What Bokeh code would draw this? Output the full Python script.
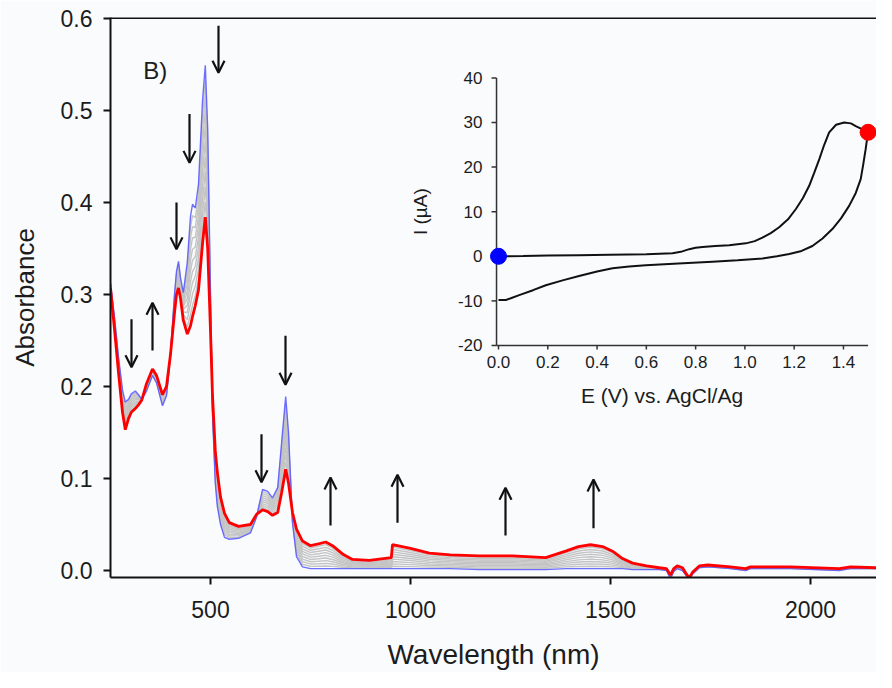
import math
from bokeh.plotting import figure
from bokeh.models import Range1d, Span, Arrow, OpenHead, Label, ColumnDataSource, PrintfTickFormatter
from bokeh.core.properties import value
from bokeh.embed import file_html
from bokeh.resources import INLINE

# ---------------- data: spectra (main panel) ----------------
wavelength = [250, 260, 270, 280, 287, 295, 302, 312, 320, 328, 340, 355, 365, 380, 390, 400,
              410, 415, 420, 425, 432, 442, 450, 455, 462, 470, 480, 487, 493, 500, 505, 512,
              517, 525, 535, 547, 570, 600, 615, 630, 643, 655, 668, 678, 688, 695, 705, 715,
              730, 750, 770, 788, 805, 830, 855, 897, 952, 955, 1000, 1047, 1100, 1172, 1255,
              1338, 1388, 1420, 1450, 1480, 1505, 1530, 1555, 1590, 1622, 1640, 1650, 1658,
              1667, 1680, 1690, 1697, 1705, 1722, 1743, 1800, 1838, 1850, 1950, 2072, 2100, 2165]

abs_initial = [0.312, 0.275, 0.232, 0.196, 0.183, 0.186, 0.192, 0.195, 0.191, 0.186, 0.195, 0.212,
               0.204, 0.179, 0.190, 0.235, 0.300, 0.325, 0.336, 0.318, 0.302, 0.335, 0.385, 0.398,
               0.394, 0.420, 0.510, 0.549, 0.480, 0.300, 0.170, 0.095, 0.070, 0.050, 0.036, 0.034,
               0.035, 0.041, 0.058, 0.088, 0.086, 0.079, 0.090, 0.140, 0.189, 0.150, 0.052, 0.015,
               0.004, 0.002, 0.002, 0.002, 0.002, 0.002, 0.002, 0.002, 0.002, 0.002, 0.002, 0.002,
               0.002, 0.001, 0.001, 0.001, 0.002, 0.002, 0.002, 0.002, 0.002, 0.002, 0.001, 0.001,
               0.001, 0.000, -0.009, -0.001, 0.002, 0.000, -0.006, -0.010, -0.004, 0.003, 0.004,
               0.002, 0.000, 0.002, 0.002, 0.000, 0.002, 0.002]

abs_final = [0.307, 0.262, 0.215, 0.172, 0.153, 0.165, 0.172, 0.176, 0.180, 0.185, 0.203, 0.219,
             0.212, 0.191, 0.200, 0.235, 0.280, 0.300, 0.307, 0.296, 0.272, 0.257, 0.266, 0.276,
             0.288, 0.305, 0.355, 0.384, 0.350, 0.260, 0.190, 0.130, 0.107, 0.080, 0.062, 0.052,
             0.048, 0.050, 0.061, 0.066, 0.064, 0.060, 0.063, 0.085, 0.110, 0.095, 0.063, 0.045,
             0.032, 0.027, 0.029, 0.031, 0.027, 0.018, 0.012, 0.011, 0.014, 0.028, 0.024, 0.019,
             0.017, 0.016, 0.016, 0.014, 0.021, 0.026, 0.028, 0.026, 0.021, 0.013, 0.008, 0.005,
             0.003, 0.002, -0.005, 0.002, 0.005, 0.003, -0.004, -0.008, -0.002, 0.005, 0.006,
             0.004, 0.002, 0.004, 0.004, 0.002, 0.004, 0.003]

# progress of the intermediate (gray) spectra between initial and final
gray_progress = [0.1, 0.2, 0.3, 0.4, 0.5, 0.6, 0.7, 0.8, 0.9]

# arrows (wavelength, tail absorbance, head absorbance)
arrow_wl = [302.5, 355, 415, 447.5, 520, 627.5, 687.5, 800, 967.5, 1237.5, 1457.5]
arrow_tail = [0.273, 0.239, 0.400, 0.496, 0.592, 0.148, 0.255, 0.049, 0.052, 0.038, 0.046]
arrow_head = [0.221, 0.291, 0.349, 0.443, 0.541, 0.096, 0.202, 0.101, 0.104, 0.090, 0.099]

x_ticks = [500, 1000, 1500, 2000]
y_ticks = [0.0, 0.1, 0.2, 0.3, 0.4, 0.5, 0.6]

# ---------------- data: cyclic voltammogram (inset) ----------------
cv_fwd_E = [0.0, 0.1, 0.2, 0.327, 0.45, 0.6, 0.706, 0.74, 0.774, 0.80, 0.828, 0.88, 0.936, 1.004,
            1.04, 1.071, 1.105, 1.139, 1.175, 1.207, 1.235, 1.261, 1.282, 1.302, 1.322, 1.342,
            1.37, 1.403, 1.43, 1.45, 1.475, 1.5]
cv_fwd_I = [0.0, 0.05, 0.15, 0.25, 0.35, 0.47, 0.7, 1.0, 1.6, 1.9, 2.1, 2.3, 2.5, 2.9,
            3.4, 4.2, 5.2, 6.5, 8.3, 10.6, 13.0, 15.8, 18.8, 21.8, 25.0, 27.8,
            29.5, 30.0, 29.8, 29.2, 28.5, 27.8]
cv_rev_E = [1.5, 1.495, 1.49, 1.48, 1.47, 1.45, 1.423, 1.39, 1.355, 1.315, 1.274, 1.23, 1.18,
            1.13, 1.071, 0.97, 0.868, 0.73, 0.598, 0.53, 0.463, 0.40, 0.327, 0.26, 0.192,
            0.14, 0.084, 0.05, 0.03, 0.0]
cv_rev_I = [27.8, 26.0, 24.0, 20.5, 17.3, 14.2, 11.3, 8.5, 6.1, 4.0, 2.3, 1.2, 0.5,
            0.0, -0.5, -0.9, -1.2, -1.6, -2.0, -2.3, -2.7, -3.4, -4.4, -5.4, -6.5,
            -7.6, -8.7, -9.4, -9.8, -9.8]
cv_start = ([0.0], [0.0])
cv_switch = ([1.5], [27.8])

inset_x_ticks = [0.0, 0.2, 0.4, 0.6, 0.8, 1.0, 1.2, 1.4]
inset_y_ticks = [-20, -10, 0, 10, 20, 30, 40]
inset_x_extent = (-0.008, 1.5)
inset_y_extent = (-20, 40)

# ---------------- figure ----------------
FONT = "Liberation Sans"
BG = "#f9fbfd"
INK = "#1c1c1c"

p = figure(width=876, height=672, x_range=Range1d(250, 2165), y_range=Range1d(-0.0076, 0.601),
           output_backend="svg", toolbar_location=None,
           min_border_left=110, min_border_right=0, min_border_top=17, min_border_bottom=95)
p.background_fill_color = BG
p.border_fill_color = BG
p.outline_line_color = None
p.xgrid.visible = False
p.ygrid.visible = False

p.extra_x_ranges = {"cvx": Range1d(-1.5747, 1.5341)}
p.extra_y_ranges = {"cvy": Range1d(-72.02, 53.54)}

for ax in (p.xaxis[0], p.yaxis[0]):
    ax.axis_line_width = 2
    ax.axis_line_color = "#111111"
    ax.major_tick_line_width = 2
    ax.major_tick_line_color = "#111111"
    ax.major_tick_out = 7
    ax.major_tick_in = 0
    ax.minor_tick_line_color = None
    ax.major_label_text_font = FONT
    ax.major_label_text_font_size = "23px"
    ax.major_label_text_color = INK
    ax.axis_label_text_font = FONT
    ax.axis_label_text_font_style = "normal"
    ax.axis_label_text_color = INK

p.xaxis.axis_label_text_font_size = "28px"
p.yaxis.axis_label_text_font_size = "26px"
p.xaxis.ticker = x_ticks
p.yaxis.ticker = y_ticks
p.yaxis.formatter = PrintfTickFormatter(format="%.1f")
p.xaxis.axis_label = "Wavelength (nm)"
p.yaxis.axis_label = "Absorbance"
p.xaxis.major_label_standoff = 16
p.yaxis.major_label_standoff = 11
p.xaxis.axis_label_standoff = 18
p.yaxis.axis_label_standoff = 18

p.add_layout(Span(location=0.6005, dimension="width", line_color="#111111", line_width=2))

# gray intermediate spectra
for f in gray_progress:
    ys = [a + f * (b - a) for a, b in zip(abs_initial, abs_final)]
    p.line(wavelength, ys, line_color="#c4c4c4", line_width=1.4)

p.line(wavelength, abs_initial, line_color="#5555ff", line_width=1.4, line_alpha=0.85)
p.line(wavelength, abs_final, line_color="#ff0000", line_width=2.8)

arrows = ColumnDataSource(dict(x0=arrow_wl, y0=arrow_tail, x1=arrow_wl, y1=arrow_head))
p.add_layout(Arrow(source=arrows, x_start="x0", y_start="y0", x_end="x1", y_end="y1",
                   line_width=2.2, line_color="#111111",
                   end=OpenHead(size=12, line_width=2.2, line_color="#111111")))

p.add_layout(Label(x=332, y=0.543, text="B)", text_font=FONT, text_font_size="24px",
                   text_color=INK, text_baseline="middle", text_align="left"))

# ---------------- inset (cyclic voltammogram) ----------------
rk = dict(x_range_name="cvx", y_range_name="cvy")
axc = "#333333"
p.line([inset_x_extent[0], inset_x_extent[0]], [inset_y_extent[0], inset_y_extent[1]],
       line_color=axc, line_width=1.5, **rk)
p.line([inset_x_extent[0], inset_x_extent[1]], [inset_y_extent[0], inset_y_extent[0]],
       line_color=axc, line_width=1.5, **rk)
p.ray(x=[inset_x_extent[0]] * len(inset_y_ticks), y=inset_y_ticks, length=5, length_units="screen",
      angle=math.pi, line_color=axc, line_width=1.5, **rk)
p.ray(x=inset_x_ticks, y=[inset_y_extent[0]] * len(inset_x_ticks), length=4, length_units="screen",
      angle=-math.pi / 2, line_color=axc, line_width=1.5, **rk)
p.text(x=[inset_x_extent[0]] * len(inset_y_ticks), y=inset_y_ticks,
       text=[str(v) for v in inset_y_ticks], x_offset=-14, text_align="right", text_baseline="middle",
       text_font=value(FONT), text_font_size="17px", text_color=INK, **rk)
p.text(x=inset_x_ticks, y=[inset_y_extent[0]] * len(inset_x_ticks),
       text=["%.1f" % v for v in inset_x_ticks], y_offset=17, text_align="center",
       text_baseline="middle", text_font=value(FONT), text_font_size="17px",
       text_color=INK, **rk)
p.text(x=[0.666], y=[-31.2], text=["E (V) vs. AgCl/Ag"], text_align="center",
       text_baseline="middle", text_font=value(FONT), text_font_size="21px",
       text_color=INK, **rk)
p.text(x=[-0.3166], y=[10], text=["I (µA)"], angle=math.pi / 2, text_align="center",
       text_baseline="middle", text_font=value(FONT), text_font_size="19px",
       text_color=INK, **rk)

p.line(cv_fwd_E, cv_fwd_I, line_color="#111111", line_width=2, **rk)
p.line(cv_rev_E, cv_rev_I, line_color="#111111", line_width=2, **rk)
p.scatter(cv_start[0], cv_start[1], size=16, fill_color="#0000ff", line_color="#0000ff", **rk)
p.scatter(cv_switch[0], cv_switch[1], size=16, fill_color="#ff0000", line_color="#ff0000", **rk)

open("out.html", "w").write(file_html(p, INLINE))
